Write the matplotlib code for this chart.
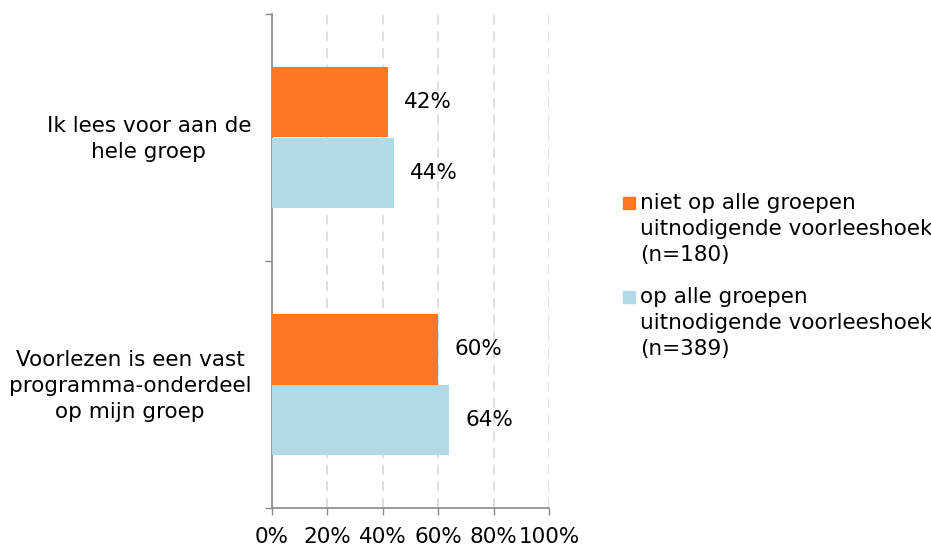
import matplotlib
matplotlib.use("Agg")
import matplotlib.pyplot as plt
from matplotlib.patches import Rectangle

# Survey results: share of respondents per statement
categories = ["Ik lees voor aan de\nhele groep",
              "Voorlezen is een vast\nprogramma-onderdeel\nop mijn groep"]
series_names = ["niet op alle groepen\nuitnodigende voorleeshoek\n(n=180)",
                "op alle groepen\nuitnodigende voorleeshoek\n(n=389)"]
niet_alle = [42, 60]
alle = [44, 64]
x_ticks = [0, 20, 40, 60, 80, 100]
x_tick_labels = ["0%", "20%", "40%", "60%", "80%", "100%"]

colors = ["#FF7722", "#B2D9E6"]
axis_gray = "#888888"
fs = 15.5
lsp = 1.38

plt.rcParams["font.family"] = ["DejaVu Sans"]

fig = plt.figure(figsize=(9.31, 5.48), dpi=100)
ax = fig.add_axes([272 / 931, 1 - 508 / 548, (549 - 272) / 931, (508 - 14) / 548])

bar_h = 0.287
centers = [0.5 + i for i in range(len(categories))]
series = [niet_alle, alle]
offsets = [-bar_h / 2, bar_h / 2]
for vals, col, off in zip(series, colors, offsets):
    ys = [c + off for c in centers]
    ax.barh(ys, vals, height=bar_h, color=col, zorder=3)
    for y, v in zip(ys, vals):
        ax.annotate(f"{v}%", xy=(v, y), xytext=(16, 0), textcoords="offset pixels",
                    ha="left", va="center", fontsize=fs, color="black")

ax.set_xlim(0, 100)
ax.set_ylim(len(categories), 0)

ax.set_xticks(x_ticks)
ax.set_xticklabels(x_tick_labels, fontsize=fs)
ax.tick_params(axis="x", direction="out", length=5, width=1, color=axis_gray, pad=9)

# Group boundaries carry the tick marks; labels sit at group centres
ax.set_yticks([0, 1, 2])
ax.set_yticklabels([])
ax.tick_params(axis="y", which="major", direction="out", length=5, width=1, color=axis_gray)
ax.set_yticks([c - 0.014 for c in centers], minor=True)
ax.set_yticklabels(categories, minor=True, fontsize=fs)
ax.tick_params(axis="y", which="minor", length=0, pad=15)
for lbl in ax.get_yticklabels(minor=True):
    lbl.set_multialignment("center")
    lbl.set_linespacing(lsp)

ax.xaxis.grid(True, color="#D9D9D9", linestyle=(0, (6, 4)), linewidth=1.2, zorder=0)
ax.set_axisbelow(True)

for s in ["top", "right"]:
    ax.spines[s].set_visible(False)
for s in ["left", "bottom"]:
    ax.spines[s].set_color(axis_gray)
    ax.spines[s].set_linewidth(1.2)

# Legend: squares sit on the baseline of each entry's first line
square_bottoms = [209, 303]
last_baselines = [261, 355]
for name, col, yb, yl in zip(series_names, colors, square_bottoms, last_baselines):
    fig.patches.append(Rectangle((623 / 931, 1 - yb / 548), 12 / 931, 12 / 548,
                                 transform=fig.transFigure, color=col))
    fig.text(640 / 931, 1 - yl / 548, name, fontsize=fs, ha="left", va="baseline",
             transform=fig.transFigure, linespacing=lsp)

fig.savefig("out.png", dpi=100)
